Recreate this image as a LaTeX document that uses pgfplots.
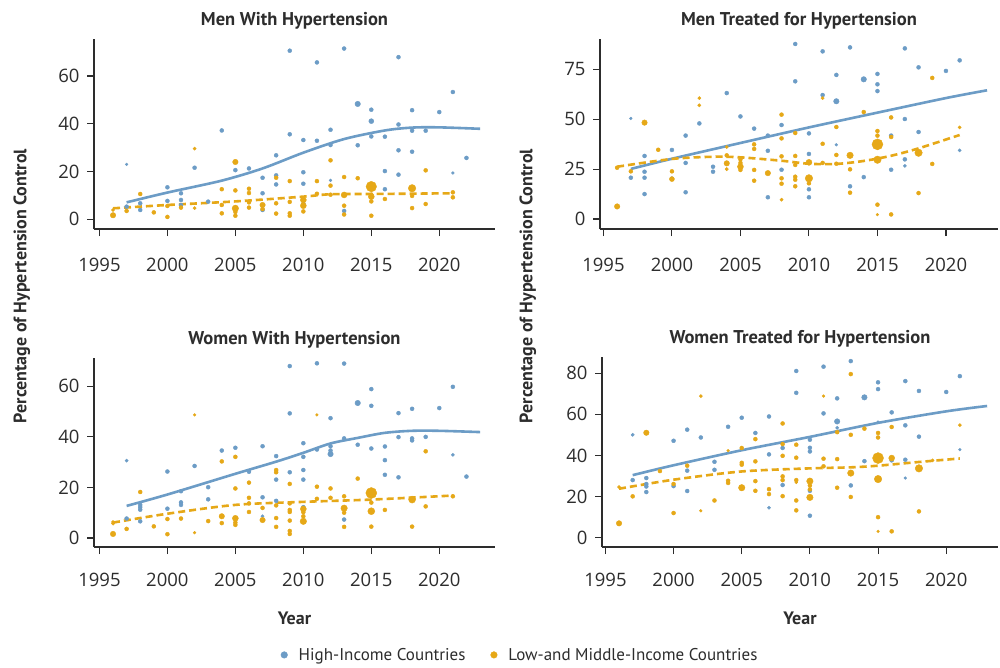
\documentclass[border=0pt]{standalone}
\usepackage{pgfplots}
\pgfplotsset{compat=1.18}
\usepackage{fontspec}
\setmainfont{PT Sans}
\newfontfamily\tickfont{Open Sans}
\definecolor{hic}{RGB}{108,156,198}
\definecolor{lmic}{RGB}{230,168,23}
\definecolor{axc}{RGB}{45,45,45}
\pgfplotsset{
  panel/.style={
    scale only axis, clip=false,
    axis x line*=bottom, axis y line*=left,
    axis line style={axc, line width=1.1pt, -},
    tick align=outside, major tick length=7pt,
    every tick/.style={axc, line width=1.1pt},
    xtick={1995,2000,...,2020},
    ticklabel style={font=\tickfont\fontsize{18.5}{21}\selectfont, text=axc},
    yticklabel style={xshift=-4pt},
    /pgf/number format/assume math mode=true,
    /pgf/number format/1000 sep={},
    title style={font=\bfseries\fontsize{18.5}{21}\selectfont, text=axc, at={(0.5,1)}, anchor=base, yshift=7.5pt},
    label style={font=\bfseries\fontsize{18}{21}\selectfont, text=axc},
  },
  pts/.style={scatter, only marks, mark=*, forget plot,
    scatter/use mapped color={draw=#1, fill=#1},
    visualization depends on={1.25*\thisrow{s} \as \ms},
    scatter/@pre marker code/.append style={/tikz/mark size=\ms}},
  trendb/.style={hic, smooth, line width=2.6pt, forget plot},
  trendo/.style={lmic, smooth, line width=2.6pt, dash pattern=on 7pt off 4pt, forget plot},
}
\begin{document}
\begin{tikzpicture}
\path[use as bounding box, fill=white] (0,0) rectangle (1000pt,-668pt);

% ---------- Panel 1: Men With Hypertension ----------
\begin{axis}[panel, at={(94pt,-229pt)}, anchor=south west, width=401pt, height=190pt,
  xmin=1994.6, xmax=2024.1, ymin=-4.06, ymax=75.5, ytick={0,20,40,60},
  xticklabel style={yshift=-19pt},
  title={Men With Hypertension},
  ylabel={Percentage of Hypertension Control},
  ylabel style={at={(axis description cs:-0.18,-0.30)}, anchor=center}]
\addplot[pts=hic] table {
x y s
1997 23.0 1.1
1997 5.3 1.6
1998 6.7 1.6
1998 3.9 1.6
2000 13.4 1.6
2000 7.7 1.6
2001 10.9 1.6
2001 8.1 1.6
2001 6.0 1.6
2002 21.6 1.6
2003 7.4 1.6
2004 37.2 1.6
2005 20.6 1.6
2006 21.3 1.6
2007 17.4 1.6
2007 10.9 1.6
2007 3.9 1.6
2008 26.8 1.6
2008 18.4 1.6
2008 14.6 1.6
2009 70.6 1.6
2009 35.6 1.6
2010 33.2 1.6
2010 19.7 1.6
2010 14.9 1.6
2010 6.4 1.6
2011 65.7 1.6
2011 32.9 1.6
2012 37.5 1.6
2012 31.1 1.6
2012 16.3 1.1
2013 71.5 1.6
2013 3.5 1.6
2014 48.3 2.2
2014 31.0 1.6
2015 45.9 1.6
2015 41.1 2.0
2015 34.7 1.6
2016 34.6 1.6
2016 20.2 1.6
2016 12.6 1.6
2017 67.9 1.6
2017 39.7 1.6
2017 28.9 1.6
2017 18.7 1.6
2018 45.7 1.6
2018 37.1 1.6
2018 28.3 1.6
2019 37.1 1.6
2020 44.9 1.6
2021 53.3 1.6
2021 19.4 1.1
2022 25.7 1.6
};
\addplot[pts=lmic] table {
x y s
1996 1.7 2.2
1996 3.9 1.3
1997 3.5 1.6
1998 10.6 1.6
1999 2.9 1.6
2000 1.0 1.6
2000 5.6 1.6
2001 4.9 1.6
2002 29.6 1.3
2002 4.7 1.3
2004 12.6 1.6
2004 6.0 1.6
2004 2.5 1.6
2005 24.0 2.2
2005 12.1 1.6
2005 4.6 2.6
2005 3.1 1.6
2005 1.5 1.6
2006 12.8 1.6
2006 11.0 1.6
2006 7.1 1.6
2006 4.9 1.6
2007 6.0 2.2
2007 4.3 1.6
2008 17.4 1.6
2008 6.7 1.6
2008 2.4 1.6
2009 16.0 1.6
2009 7.3 1.6
2009 2.5 1.6
2009 1.5 1.6
2010 8.1 2.4
2010 5.7 2.4
2010 3.3 1.6
2011 16.0 1.6
2011 10.7 1.6
2012 24.7 1.6
2012 14.1 1.6
2012 10.3 1.6
2013 17.7 1.6
2013 10.2 2.4
2013 5.7 1.6
2013 2.0 1.6
2014 17.2 1.6
2015 13.7 4.2
2015 10.3 1.6
2015 9.5 2.4
2015 7.5 1.6
2015 1.5 1.6
2016 8.5 1.6
2018 13.0 3.0
2018 9.8 1.6
2018 4.7 1.6
2019 20.5 1.6
2019 6.4 1.6
2021 11.3 1.6
2021 9.2 1.6
};
\addplot[trendb] coordinates {(1997,7.1) (2000,11.2) (2004,16.2) (2007,21.3) (2010,27.9) (2013,33.6) (2016,37.2) (2018,38.4) (2020,38.5) (2023,37.9)};
\addplot[trendo] coordinates {(1996,4.6) (2000,6.0) (2005,7.5) (2010,9.5) (2012,10.5) (2015,10.6) (2021,10.9)};
\end{axis}

% ---------- Panel 2: Men Treated for Hypertension ----------
\begin{axis}[panel, at={(600pt,-229pt)}, anchor=south west, width=398pt, height=190pt,
  xmin=1994.75, xmax=2023.8, ymin=-5.0, ymax=90.2, ytick={0,25,50,75},
  xticklabel style={yshift=-19pt},
  title={Men Treated for Hypertension},
  ylabel={Percentage of Hypertension Control},
  ylabel style={at={(axis description cs:-0.181,-0.30)}, anchor=center}]
\addplot[pts=hic] table {
x y s
1997 50.4 1.1
1997 20.7 1.6
1998 31.6 1.6
1998 23.7 1.6
1998 20.7 1.6
1998 12.5 1.6
2000 34.6 1.6
2000 20.2 1.6
2001 41.8 1.6
2001 28.1 1.6
2001 13.4 1.6
2002 47.9 1.6
2003 26.2 1.6
2003 23.7 1.6
2004 63.1 1.6
2005 51.4 1.6
2006 45.3 1.6
2007 41.8 1.6
2007 34.2 1.6
2007 10.9 1.6
2008 47.1 1.6
2008 24.7 1.6
2009 87.7 1.6
2009 69.0 1.6
2010 42.9 1.6
2010 32.6 1.6
2010 14.9 1.6
2010 10.9 1.6
2011 84.0 1.6
2011 62.1 1.6
2012 72.2 1.6
2012 59.0 2.2
2012 37.2 1.1
2013 86.0 1.6
2013 16.4 1.6
2014 70.0 2.2
2014 21.0 1.6
2015 72.7 1.6
2015 67.5 1.6
2015 64.1 1.6
2016 41.8 1.6
2016 24.7 1.6
2017 85.5 1.6
2017 50.1 1.6
2017 29.9 1.6
2017 26.6 1.3
2018 76.0 1.6
2018 43.6 1.6
2020 74.2 1.6
2021 79.5 1.6
2021 34.4 1.3
};
\addplot[pts=lmic] table {
x y s
1996 6.3 2.2
1996 25.7 1.6
1997 23.9 1.6
1998 48.3 2.2
1999 34.7 1.6
2000 23.9 1.6
2000 20.0 2.0
2002 60.6 1.3
2002 57.0 1.3
2004 36.1 1.3
2004 31.9 1.6
2004 27.9 2.2
2004 25.0 1.3
2005 29.9 1.6
2005 28.1 1.6
2005 26.2 2.4
2005 24.6 1.6
2006 37.4 1.6
2006 35.1 1.6
2006 24.6 1.6
2006 19.2 1.6
2007 23.0 2.2
2008 52.3 1.6
2008 40.4 1.6
2008 31.4 1.6
2008 20.4 1.6
2008 17.7 1.6
2008 9.7 1.3
2009 43.1 1.6
2009 31.6 1.6
2009 27.1 1.6
2009 21.2 1.6
2009 19.7 1.6
2009 16.4 1.6
2010 28.4 2.4
2010 20.4 3.0
2010 17.9 1.6
2011 60.6 1.3
2011 37.7 1.6
2011 28.1 1.6
2012 46.1 1.6
2012 32.1 1.6
2012 27.7 1.6
2013 31.9 2.6
2013 24.9 1.6
2013 13.2 1.6
2014 53.6 1.6
2015 44.1 1.6
2015 41.8 1.6
2015 37.4 4.4
2015 29.7 3.0
2015 7.2 1.6
2015 2.2 1.1
2016 50.9 1.6
2016 41.1 1.6
2016 2.3 1.6
2018 33.2 3.0
2018 13.0 1.6
2019 70.7 1.6
2019 27.6 1.6
2021 45.9 1.3
};
\addplot[trendb] coordinates {(1997,25.1) (2000,30.2) (2005,38.1) (2010,45.9) (2015,53.3) (2020,60.6) (2023,64.5)};
\addplot[trendo] coordinates {(1996,26.2) (2000,30.1) (2003,31.2) (2005,30.9) (2008,29.2) (2010,27.7) (2012,27.6) (2014,29.1) (2016,31.7) (2018,35.4) (2021,42.1)};
\end{axis}

% ---------- Panel 3: Women With Hypertension ----------
\begin{axis}[panel, at={(94pt,-547pt)}, anchor=south west, width=401pt, height=189pt,
  xmin=1994.6, xmax=2024.1, ymin=-3.56, ymax=71.2, ytick={0,20,40,60},
  xticklabel style={yshift=-16pt},
  title={Women With Hypertension},
  xlabel={Year},
  xlabel style={at={(axis description cs:0.5,0)}, anchor=base, yshift=-77pt},
  legend style={at={(axis description cs:1.06,-0.571)}, anchor=center, draw=none, fill=none,
    legend columns=2, font=\fontsize{17}{20}\selectfont, text=axc,
    nodes={inner sep=0pt},
    /tikz/every odd column/.append style={column sep=11pt},
    /tikz/every even column/.append style={column sep=25pt}}]
\addplot[pts=hic] table {
x y s
1997 30.6 1.3
1997 7.7 1.6
1998 13.1 1.6
1998 12.2 1.6
1998 11.2 1.6
1998 6.6 1.6
2000 26.3 1.6
2000 11.6 1.6
2001 18.5 1.6
2001 14.1 1.6
2001 13.1 1.6
2002 28.5 1.6
2003 20.1 1.6
2003 15.3 1.6
2004 34.6 1.6
2005 35.7 1.6
2006 26.2 1.6
2007 36.3 1.6
2007 16.1 1.6
2007 8.6 1.3
2008 32.4 1.6
2008 23.1 1.6
2008 14.7 1.6
2009 68.0 1.6
2009 49.3 1.6
2009 26.0 1.6
2010 37.5 1.6
2010 32.1 1.6
2010 26.9 1.6
2010 23.1 1.6
2010 12.2 1.6
2011 69.1 1.6
2011 35.0 1.6
2012 47.4 1.6
2012 36.3 1.6
2012 34.6 1.6
2012 33.2 2.2
2013 69.0 1.6
2013 39.4 1.6
2013 7.3 1.6
2014 53.4 2.2
2014 36.9 1.6
2015 58.9 1.6
2015 52.3 1.6
2015 35.4 1.6
2016 36.2 1.6
2016 30.8 1.6
2016 25.0 1.6
2017 49.4 1.6
2017 39.9 1.6
2017 24.0 1.6
2018 51.1 1.6
2018 39.4 1.6
2018 38.6 1.6
2019 40.0 1.6
2020 51.4 1.6
2021 59.8 1.6
2021 32.9 1.3
2022 24.3 1.6
};
\addplot[pts=lmic] table {
x y s
1996 6.3 1.3
1996 5.7 1.3
1996 1.6 2.2
1997 3.6 1.6
1998 18.2 1.6
1999 4.6 1.6
2000 7.5 1.6
2000 1.5 1.6
2001 7.7 1.6
2002 48.7 1.1
2002 2.1 1.1
2003 6.7 1.6
2004 30.3 1.6
2004 8.6 2.2
2004 5.9 1.6
2005 32.1 1.6
2005 19.6 1.6
2005 7.8 2.4
2005 6.1 1.6
2005 5.2 1.6
2006 21.9 1.6
2006 15.9 1.6
2006 13.7 1.6
2006 10.3 1.6
2007 11.9 1.6
2007 7.1 2.2
2008 26.9 1.6
2008 26.0 1.6
2008 12.9 1.6
2008 7.9 1.6
2008 4.4 1.6
2009 21.4 1.6
2009 13.7 1.6
2009 11.1 1.6
2009 10.3 1.6
2009 6.9 1.6
2009 2.8 1.6
2009 1.6 1.6
2010 11.5 2.4
2010 10.2 1.6
2010 8.6 1.6
2010 6.6 2.6
2011 48.7 1.1
2011 20.3 1.6
2011 15.5 1.6
2012 19.6 1.6
2012 15.9 1.6
2013 16.5 1.6
2013 11.8 2.6
2013 10.0 1.6
2013 4.4 1.6
2014 23.5 1.6
2015 17.8 4.4
2015 14.0 1.6
2015 10.6 2.8
2015 4.5 1.6
2016 11.1 1.6
2018 15.2 2.8
2018 4.5 1.6
2019 34.3 1.6
2019 12.5 1.6
2021 16.5 1.6
};
\addplot[trendb] coordinates {(1997,12.7) (2000,17.2) (2005,25.4) (2008,30.2) (2010,33.7) (2012,37.4) (2014,39.6) (2016,41.6) (2018,42.4) (2020,42.4) (2023,41.9)};
\addplot[trendo] coordinates {(1996,6.1) (2000,9.6) (2005,13.1) (2010,14.3) (2015,15.2) (2021,16.8)};
\addlegendimage{legend image code/.code={\fill[hic] (0pt,0pt) circle (3.3pt);}}
\addlegendentry{High-Income Countries}
\addlegendimage{legend image code/.code={\fill[lmic] (0pt,0pt) circle (3.3pt);}}
\addlegendentry{Low-and Middle-Income Countries}
\end{axis}

% ---------- Panel 4: Women Treated for Hypertension ----------
\begin{axis}[panel, at={(602pt,-547pt)}, anchor=south west, width=396pt, height=190pt,
  xmin=1994.75, xmax=2023.8, ymin=-4.5, ymax=87.8, ytick={0,20,40,60,80},
  xticklabel style={yshift=-16pt},
  title={Women Treated for Hypertension},
  xlabel={Year},
  xlabel style={at={(axis description cs:0.5,0)}, anchor=base, yshift=-77pt}]
\addplot[pts=hic] table {
x y s
1997 50.0 1.3
1997 28.0 1.6
1998 29.0 1.6
1998 26.1 1.6
1998 24.9 1.6
1998 22.2 1.6
2000 47.1 1.6
2000 25.1 1.6
2001 52.5 1.6
2001 32.6 1.6
2001 22.7 1.6
2002 48.7 1.6
2003 36.9 1.6
2003 33.0 1.6
2004 53.9 1.6
2005 58.3 1.6
2006 50.9 1.6
2007 58.9 1.6
2007 40.5 1.6
2007 14.6 1.3
2008 43.6 1.6
2008 25.6 1.6
2009 81.0 1.6
2009 70.4 1.6
2010 47.6 1.6
2010 43.7 1.6
2010 41.9 1.6
2010 22.8 1.6
2010 10.7 1.6
2011 83.1 1.6
2011 60.4 1.6
2012 67.7 1.6
2012 56.5 2.2
2012 53.4 1.3
2013 85.8 1.6
2013 25.4 1.6
2014 68.2 2.2
2014 37.2 1.6
2015 75.5 1.6
2015 72.2 1.6
2015 56.2 1.1
2016 60.9 1.6
2016 37.6 1.6
2017 76.1 1.6
2017 54.6 1.6
2017 37.9 1.6
2017 29.0 1.1
2018 71.3 1.6
2018 49.1 1.6
2020 70.8 1.6
2021 78.5 1.6
2021 42.8 1.1
};
\addplot[pts=lmic] table {
x y s
1996 24.6 1.3
1996 7.0 2.2
1997 20.1 1.6
1998 51.0 2.2
1999 32.4 1.6
2000 26.1 1.6
2000 12.0 1.6
2001 35.0 1.6
2002 68.8 1.3
2002 13.1 1.1
2003 18.1 1.6
2004 42.3 1.1
2004 27.7 1.6
2004 26.6 1.6
2005 43.6 1.6
2005 36.4 1.6
2005 35.5 1.6
2005 24.3 2.6
2006 47.9 1.6
2006 37.1 1.6
2006 27.5 1.6
2006 22.8 1.6
2007 23.6 1.6
2007 21.2 1.6
2008 55.5 1.6
2008 45.5 1.6
2008 39.8 1.6
2008 29.8 1.6
2008 28.0 1.6
2008 20.2 1.6
2009 45.2 1.6
2009 38.9 1.6
2009 28.0 1.6
2009 26.9 1.1
2009 18.1 1.6
2009 13.3 1.6
2010 27.5 2.6
2010 25.4 1.6
2010 23.5 1.6
2010 19.6 2.6
2011 68.8 1.1
2011 38.4 1.6
2011 34.7 1.6
2012 51.3 1.6
2012 38.2 1.6
2012 24.3 1.6
2013 79.5 1.6
2013 50.0 1.6
2013 31.4 2.6
2013 19.8 1.6
2014 53.0 1.6
2015 50.9 1.6
2015 48.7 1.6
2015 38.7 4.4
2015 28.5 3.0
2015 10.0 1.6
2015 3.1 1.1
2016 53.8 1.6
2016 38.7 2.4
2016 3.1 1.6
2018 33.7 3.0
2018 12.8 1.6
2019 37.6 1.3
2021 54.7 1.3
};
\addplot[trendb] coordinates {(1997,30.4) (2000,35.2) (2005,42.5) (2010,49.0) (2015,55.8) (2020,61.4) (2023,64.0)};
\addplot[trendo] coordinates {(1996,23.8) (2000,28.2) (2005,32.2) (2010,33.7) (2013,34.2) (2015,35.0) (2018,36.8) (2021,38.5)};
\end{axis}
\end{tikzpicture}
\end{document}
